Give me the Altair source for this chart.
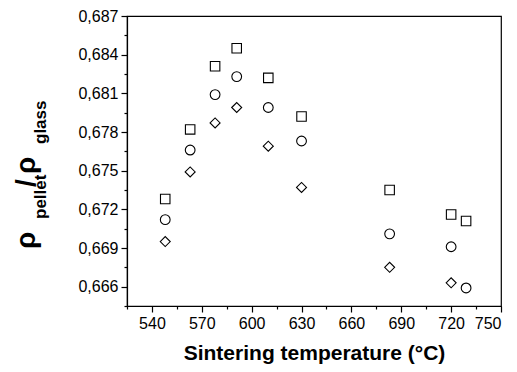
import altair as alt
import pandas as pd

# ---- data ----
temps = [548, 563, 578, 591, 610, 630, 683, 720, 729]
square_vals = [0.6728, 0.6782, 0.6831, 0.6845, 0.6822, 0.6792, 0.6735, 0.6716, 0.6711]
circle_vals = [0.6712, 0.6766, 0.6809, 0.6823, 0.6799, 0.6773, 0.6701, 0.6691, 0.6659]
diamond_temps = [548, 563, 578, 591, 610, 630, 683, 720]
diamond_vals = [0.6695, 0.6749, 0.6787, 0.6799, 0.6769, 0.6737, 0.6675, 0.6663]

x_major = [540, 570, 600, 630, 660, 690, 720, 750]
x_minor = [525, 555, 585, 615, 645, 675, 705, 735]
y_major = [0.666, 0.669, 0.672, 0.675, 0.678, 0.681, 0.684, 0.687]
y_minor = [0.6645, 0.6675, 0.6705, 0.6735, 0.6765, 0.6795, 0.6825, 0.6855]

rows = []
for t, v in zip(temps, square_vals):
    rows.append({"T": t, "rho": v, "series": "s1"})
for t, v in zip(temps, circle_vals):
    rows.append({"T": t, "rho": v, "series": "s2"})
for t, v in zip(diamond_temps, diamond_vals):
    rows.append({"T": t, "rho": v, "series": "s3"})
df = pd.DataFrame(rows)

FONT = "Liberation Sans"
xscale = alt.Scale(domain=[525, 750], nice=False, zero=False)
yscale = alt.Scale(domain=[0.6645, 0.687], nice=False, zero=False)

common_axis = dict(grid=False, domainColor="black", tickColor="black", labelColor="black",
                   titleColor="black", labelFont=FONT, titleFont=FONT, domainWidth=1.2,
                   tickWidth=1.2)

points = alt.Chart(df).mark_point(filled=False, color="black", strokeWidth=1.1, opacity=1).encode(
    x=alt.X("T:Q", scale=xscale,
            axis=alt.Axis(values=x_major, orient="bottom", title="Sintering temperature (°C)",
                          titleFontSize=21, titleFontWeight="bold", titlePadding=11,
                          labelFontSize=16, tickSize=6, labelPadding=3, format="d",
                          **common_axis)),
    y=alt.Y("rho:Q", scale=yscale,
            axis=alt.Axis(values=y_major, orient="left", title=None,
                          labelFontSize=16, tickSize=6, labelPadding=3,
                          labelExpr="replace(format(datum.value, '.3f'), '.', ',')",
                          **common_axis)),
    shape=alt.Shape("series:N", scale=alt.Scale(domain=["s1", "s2", "s3"],
                                                range=["square", "circle", "diamond"]),
                    legend=None),
    size=alt.Size("series:N", scale=alt.Scale(domain=["s1", "s2", "s3"], range=[90, 100, 160]),
                  legend=None),
)

minor = alt.Chart(df).mark_point(opacity=0).encode(
    x=alt.X("T:Q", scale=xscale,
            axis=alt.Axis(values=x_minor, orient="bottom", title=None, labels=False,
                          tickSize=3, domain=False, **common_axis)),
    y=alt.Y("rho:Q", scale=yscale,
            axis=alt.Axis(values=y_minor, orient="left", title=None, labels=False,
                          tickSize=3, domain=False, **common_axis)),
)

one = pd.DataFrame({"k": [0]})


def piece(txt, size, xv, yv):
    return alt.Chart(one).mark_text(
        text=txt, font=FONT, fontSize=size, fontWeight="bold", angle=270,
        align="left", baseline="alphabetic", color="black"
    ).encode(x=alt.value(xv), y=alt.value(yv))


ytitle = (piece("ρ", 28, -92, 233) + piece("pellet", 17, -81, 203) +
          piece("/", 28, -92, 171) + piece("ρ", 28, -92, 158) + piece("glass", 17, -81, 128))

chart = alt.layer(minor, points, ytitle).resolve_axis(
    x="independent", y="independent"
).properties(
    width=374, height=290,
    autosize=alt.AutoSizeParams(type="none"),
    padding={"left": 119, "top": 8, "right": 8, "bottom": 64},
).configure_view(stroke="black", strokeWidth=1.2)

chart.save("out.html", embed_options={"renderer": "svg", "actions": False})
